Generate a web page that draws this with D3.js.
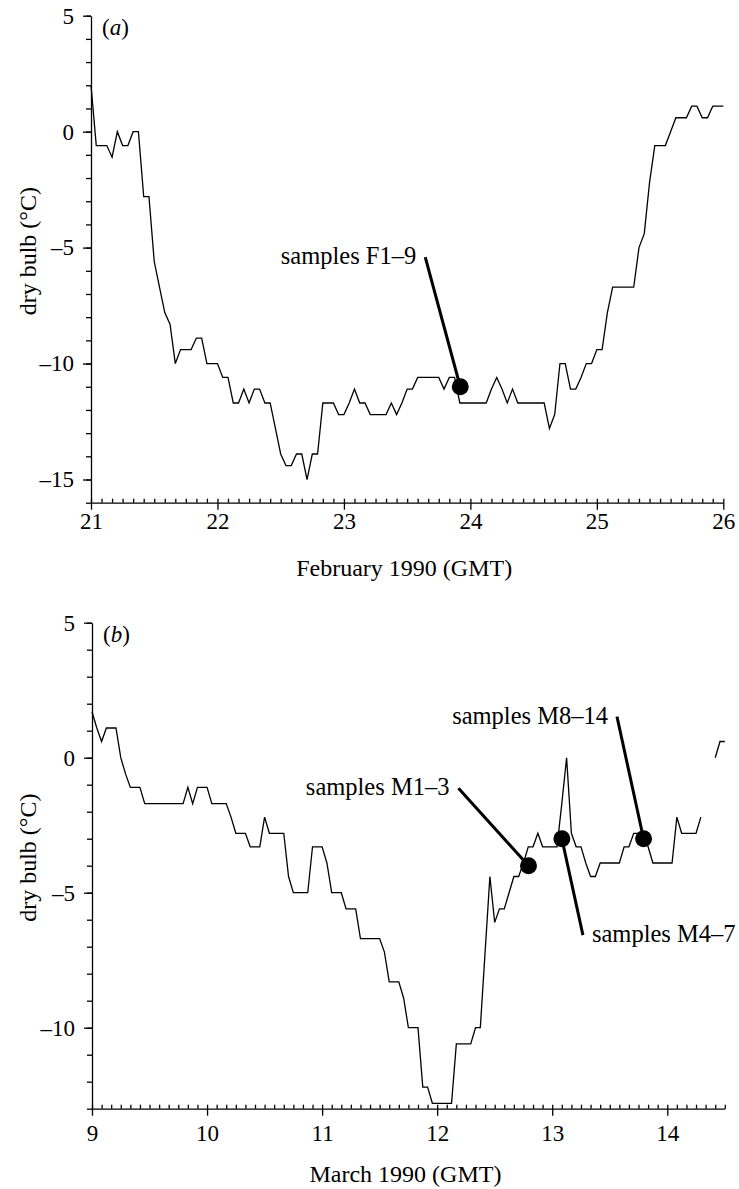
<!DOCTYPE html>
<html>
<head>
<meta charset="utf-8">
<title>Dry bulb temperature, February and March 1990</title>
<script src="https://d3js.org/d3.v7.min.js"></script>
<style>
  body { margin: 0; background: #fff; }
  svg text { font-family: "Liberation Serif", "Times New Roman", serif; fill: #000; }
  .axis path, .axis line { stroke: #000; stroke-width: 1.3px; }
  .axis text { font-size: 23px; font-family: "Liberation Serif", serif; }
  .trace { fill: none; stroke: #000; stroke-width: 1.3px; stroke-linejoin: miter; }
  .leader { stroke: #000; stroke-width: 3px; }
</style>
</head>
<body>
<svg id="chart" width="739" height="1189"></svg>
<script>
// hourly dry bulb readings (deg C), first one at 00 GMT of the start day
var febStart = 21;
var febTemps = [
  2.0, -0.6, -0.6, -0.6, -1.1, 0, -0.6, -0.6, 0, 0, -2.8, -2.8,
  -5.6, -6.7, -7.8, -8.3, -10, -9.4, -9.4, -9.4, -8.9, -8.9, -10, -10,
  -10, -10.6, -10.6, -11.7, -11.7, -11.1, -11.7, -11.1, -11.1, -11.7, -11.7, -12.8,
  -13.9, -14.4, -14.4, -13.9, -13.9, -15, -13.9, -13.9, -11.7, -11.7, -11.7, -12.2,
  -12.2, -11.7, -11.1, -11.7, -11.7, -12.2, -12.2, -12.2, -12.2, -11.7, -12.2, -11.7,
  -11.1, -11.1, -10.6, -10.6, -10.6, -10.6, -10.6, -11.1, -10.6, -10.6, -11.7, -11.7,
  -11.7, -11.7, -11.7, -11.7, -11.1, -10.6, -11.1, -11.7, -11.1, -11.7, -11.7, -11.7,
  -11.7, -11.7, -11.7, -12.8, -12.2, -10, -10, -11.1, -11.1, -10.6, -10, -10,
  -9.4, -9.4, -7.8, -6.7, -6.7, -6.7, -6.7, -6.7, -5.0, -4.4, -2.2, -0.6,
  -0.6, -0.6, 0, 0.6, 0.6, 0.6, 1.1, 1.1, 0.6, 0.6, 1.1, 1.1,
  1.1
];

var marStart = 9;
// null = no reading
var marTemps = [
  1.7, 1.1, 0.6, 1.1, 1.1, 1.1, 0, -0.6, -1.1, -1.1, -1.1, -1.7,
  -1.7, -1.7, -1.7, -1.7, -1.7, -1.7, -1.7, -1.7, -1.1, -1.7, -1.1, -1.1,
  -1.1, -1.7, -1.7, -1.7, -1.7, -2.2, -2.8, -2.8, -2.8, -3.3, -3.3, -3.3,
  -2.2, -2.8, -2.8, -2.8, -2.8, -4.4, -5.0, -5.0, -5.0, -5.0, -3.3, -3.3,
  -3.3, -3.9, -5.0, -5.0, -5.0, -5.6, -5.6, -5.6, -6.7, -6.7, -6.7, -6.7,
  -6.7, -7.2, -8.3, -8.3, -8.3, -8.9, -10, -10, -10, -12.2, -12.2, -12.8,
  -12.8, -12.8, -12.8, -12.8, -10.6, -10.6, -10.6, -10.6, -10, -10, -7.2, -4.4,
  -6.1, -5.6, -5.6, -5.0, -4.4, -4.4, -3.9, -3.3, -3.3, -2.8, -3.3, -3.3,
  -3.3, -3.3, -1.7, 0, -2.8, -3.3, -3.3, -3.9, -4.4, -4.4, -3.9, -3.9,
  -3.9, -3.9, -3.9, -3.3, -3.3, -2.8, -2.8, -2.8, -3.3, -3.9, -3.9, -3.9,
  -3.9, -3.9, -2.2, -2.8, -2.8, -2.8, -2.8, -2.2, null, null, 0, 0.6,
  0.6
];

var febDays = [21, 22, 23, 24, 25, 26];
var marDays = [9, 10, 11, 12, 13, 14];
var febTempTicks = [-15, -10, -5, 0, 5];
var marTempTicks = [-10, -5, 0, 5];

// sampling times: marker on the trace and the point where the label line starts
var febLabels = ["samples F1\u20139"];
var febSampleDays = [23.92];
var febSampleTemps = [-11.0];
var febLabelDays = [23.643];
var febLabelTemps = [-5.41];
var febLabelSides = ["end"];

var marLabels = ["samples M1\u20133", "samples M4\u20137", "samples M8\u201314"];
var marSampleDays = [12.794, 13.084, 13.794];
var marSampleTemps = [-4.0, -3.0, -3.0];
var marLabelDays = [12.185, 13.267, 13.563];
var marLabelTemps = [-1.13, -6.57, 1.52];
var marLabelSides = ["end", "start", "end"];

var svg = d3.select("#chart");

function fmt(d) { return d < 0 ? "\u2013" + (-d) : String(d); }

function drawPanel(p) {
  var x = d3.scaleLinear().domain(p.xDomain).range(p.xRange);
  var y = d3.scaleLinear().domain(p.yDomain).range(p.yRange);
  var bottom = p.yRange[0], left = p.xRange[0];

  var minorX = d3.range(0, Math.round((p.xDomain[1] - p.xDomain[0]) * 12) + 1)
    .map(function(i) { return p.xDomain[0] + i / 12; });
  var minorY = d3.range(p.yDomain[0], p.yDomain[1] + 1);

  // x axis: day ticks point down, 2-hourly ticks point up
  svg.append("g").attr("class", "axis")
    .attr("transform", "translate(0," + bottom + ")")
    .call(d3.axisBottom(x).tickValues(p.days).tickSize(7).tickSizeOuter(0)
      .tickPadding(p.xPad).tickFormat(fmt));
  svg.append("g").attr("class", "axis")
    .attr("transform", "translate(0," + bottom + ")")
    .call(d3.axisTop(x).tickValues(minorX).tickSize(4).tickSizeOuter(0).tickFormat(""))
    .select(".domain").remove();

  svg.append("g").attr("class", "axis")
    .attr("transform", "translate(" + left + ",0)")
    .call(d3.axisLeft(y).tickValues(p.tempTicks).tickSize(8).tickSizeOuter(0)
      .tickPadding(9).tickFormat(fmt));
  svg.append("g").attr("class", "axis")
    .attr("transform", "translate(" + left + ",0)")
    .call(d3.axisLeft(y).tickValues(minorY).tickSize(5).tickSizeOuter(0).tickFormat(""))
    .select(".domain").remove();

  svg.selectAll(".axis text").style("font-size", "23px");

  // axis titles
  var midX = (p.xRange[0] + p.xRange[1]) / 2;
  svg.append("text")
    .attr("x", midX - 3).attr("y", bottom + 73)
    .attr("text-anchor", "middle").style("font-size", "24px")
    .text(p.xTitle);
  var midY = (p.yRange[0] + p.yRange[1]) / 2 - 8;
  svg.append("text")
    .attr("transform", "translate(36," + midY + ") rotate(-90)")
    .attr("text-anchor", "middle").style("font-size", "24px")
    .text("dry bulb (\u00b0C)");

  var tag = svg.append("text")
    .attr("x", left + 11).attr("y", p.yRange[1] + 19)
    .style("font-size", "23px");
  tag.append("tspan").text("(");
  tag.append("tspan").style("font-style", "italic").text(p.tag);
  tag.append("tspan").text(")");

  var line = d3.line()
    .defined(function(d) { return d != null; })
    .x(function(d, i) { return x(p.start + i / 24); })
    .y(function(d) { return y(d); });

  svg.append("path").datum(p.temps)
    .attr("class", "trace")
    .attr("d", line);

  p.labels.forEach(function(lab, i) {
    var lx = x(p.labelDays[i]), ly = y(p.labelTemps[i]);
    var mx = x(p.sampleDays[i]), my = y(p.sampleTemps[i]);
    svg.append("line").attr("class", "leader")
      .attr("x1", lx).attr("y1", ly).attr("x2", mx).attr("y2", my);
    svg.append("circle").attr("cx", mx).attr("cy", my).attr("r", 8.5).attr("fill", "#000");
    var side = p.sides[i];
    svg.append("text")
      .attr("x", side === "end" ? lx - 9 : lx + 9)
      .attr("y", ly + 7)
      .attr("text-anchor", side)
      .style("font-size", "24.5px")
      .text(lab);
  });
}

drawPanel({
  xDomain: [21, 26], xRange: [91, 723.3],
  yDomain: [-16, 5], yRange: [502.7, 15.7],
  days: febDays, tempTicks: febTempTicks, xPad: 3,
  start: febStart, temps: febTemps,
  xTitle: "February 1990 (GMT)", tag: "a",
  labels: febLabels, sampleDays: febSampleDays, sampleTemps: febSampleTemps,
  labelDays: febLabelDays, labelTemps: febLabelTemps, sides: febLabelSides
});

drawPanel({
  xDomain: [9, 14.5], xRange: [92, 724.8],
  yDomain: [-13, 5], yRange: [1108.7, 622.7],
  days: marDays, tempTicks: marTempTicks, xPad: 9,
  start: marStart, temps: marTemps,
  xTitle: "March 1990 (GMT)", tag: "b",
  labels: marLabels, sampleDays: marSampleDays, sampleTemps: marSampleTemps,
  labelDays: marLabelDays, labelTemps: marLabelTemps, sides: marLabelSides
});
</script>
</body>
</html>
